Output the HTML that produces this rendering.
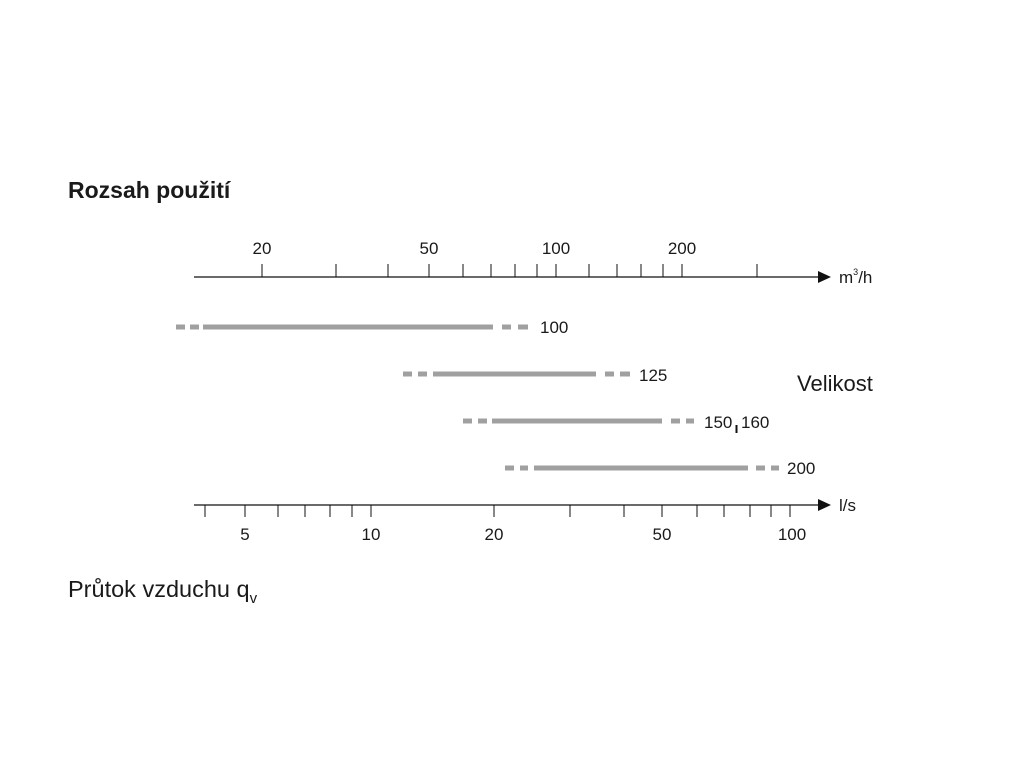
<!DOCTYPE html>
<html><head><meta charset="utf-8"><style>
html,body{margin:0;padding:0;background:#fff;}
svg{display:block;}
text{font-family:"Liberation Sans",sans-serif;fill:#1a1a1a;}
</style></head><body>
<svg width="1024" height="768" viewBox="0 0 1024 768" xmlns="http://www.w3.org/2000/svg">
<text x="68" y="198" font-size="23" font-weight="bold">Rozsah použití</text>

<line x1="194" y1="277" x2="820" y2="277" stroke="#111" stroke-width="1.2"/>
<polygon points="818,271 831,277 818,283" fill="#111"/>
<g stroke="#111" stroke-width="1">
<line x1="262" y1="264" x2="262" y2="277"/><line x1="336" y1="264" x2="336" y2="277"/>
<line x1="388" y1="264" x2="388" y2="277"/><line x1="429" y1="264" x2="429" y2="277"/>
<line x1="463" y1="264" x2="463" y2="277"/><line x1="491" y1="264" x2="491" y2="277"/>
<line x1="515" y1="264" x2="515" y2="277"/><line x1="537" y1="264" x2="537" y2="277"/>
<line x1="556" y1="264" x2="556" y2="277"/><line x1="589" y1="264" x2="589" y2="277"/>
<line x1="617" y1="264" x2="617" y2="277"/><line x1="641" y1="264" x2="641" y2="277"/>
<line x1="663" y1="264" x2="663" y2="277"/><line x1="682" y1="264" x2="682" y2="277"/>
<line x1="757" y1="264" x2="757" y2="277"/>
</g>
<g font-size="17" text-anchor="middle">
<text x="262" y="254">20</text><text x="429" y="254">50</text>
<text x="556" y="254">100</text><text x="682" y="254">200</text>
</g>
<text x="839" y="283" font-size="17">m<tspan font-size="9" dy="-8">3</tspan><tspan dy="8">/h</tspan></text>

<g stroke="#a0a0a0" stroke-width="5">
<line x1="176" y1="327" x2="185" y2="327"/><line x1="190" y1="327" x2="199" y2="327"/>
<line x1="203" y1="327" x2="493" y2="327"/>
<line x1="502" y1="327" x2="511" y2="327"/><line x1="518" y1="327" x2="528" y2="327"/>

<line x1="403" y1="374" x2="412" y2="374"/><line x1="418" y1="374" x2="427" y2="374"/>
<line x1="433" y1="374" x2="596" y2="374"/>
<line x1="605" y1="374" x2="614" y2="374"/><line x1="620" y1="374" x2="630" y2="374"/>

<line x1="463" y1="421" x2="472" y2="421"/><line x1="478" y1="421" x2="487" y2="421"/>
<line x1="492" y1="421" x2="662" y2="421"/>
<line x1="671" y1="421" x2="680" y2="421"/><line x1="686" y1="421" x2="694" y2="421"/>

<line x1="505" y1="468" x2="514" y2="468"/><line x1="520" y1="468" x2="528" y2="468"/>
<line x1="534" y1="468" x2="748" y2="468"/>
<line x1="756" y1="468" x2="765" y2="468"/><line x1="771" y1="468" x2="779" y2="468"/>
</g>
<g font-size="17">
<text x="540" y="333">100</text>
<text x="639" y="381">125</text>
<text x="704" y="428">150</text>
<text x="741" y="428">160</text>
<text x="787" y="474">200</text>
</g>
<line x1="736.5" y1="425" x2="736.5" y2="433" stroke="#111" stroke-width="2"/>
<text x="797" y="391" font-size="22">Velikost</text>

<line x1="194" y1="505" x2="820" y2="505" stroke="#111" stroke-width="1.2"/>
<polygon points="818,499 831,505 818,511" fill="#111"/>
<g stroke="#111" stroke-width="1">
<line x1="205" y1="505" x2="205" y2="517"/><line x1="245" y1="505" x2="245" y2="517"/>
<line x1="278" y1="505" x2="278" y2="517"/><line x1="305" y1="505" x2="305" y2="517"/>
<line x1="330" y1="505" x2="330" y2="517"/><line x1="352" y1="505" x2="352" y2="517"/>
<line x1="371" y1="505" x2="371" y2="517"/><line x1="494" y1="505" x2="494" y2="517"/>
<line x1="570" y1="505" x2="570" y2="517"/><line x1="624" y1="505" x2="624" y2="517"/>
<line x1="662" y1="505" x2="662" y2="517"/><line x1="697" y1="505" x2="697" y2="517"/>
<line x1="724" y1="505" x2="724" y2="517"/><line x1="750" y1="505" x2="750" y2="517"/>
<line x1="771" y1="505" x2="771" y2="517"/><line x1="790" y1="505" x2="790" y2="517"/>
</g>
<g font-size="17" text-anchor="middle">
<text x="245" y="540">5</text><text x="371" y="540">10</text>
<text x="494" y="540">20</text><text x="662" y="540">50</text><text x="792" y="540">100</text>
</g>
<text x="839" y="511" font-size="17">l/s</text>

<text x="68" y="597" font-size="23.5">Průtok vzduchu q<tspan font-size="15" dy="6">v</tspan></text>
</svg>
</body></html>
